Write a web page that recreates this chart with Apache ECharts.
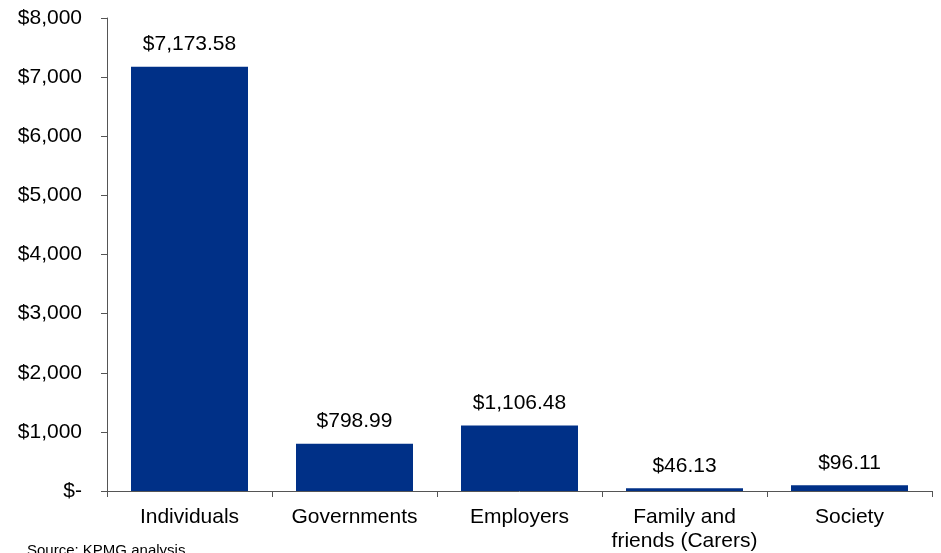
<!DOCTYPE html>
<html>
<head>
<meta charset="utf-8">
<script src="https://cdn.jsdelivr.net/npm/echarts@6/dist/echarts.min.js"></script>
<style>
  html, body { margin: 0; padding: 0; background: #fff; }
  #chart { width: 941px; height: 553px; }
</style>
</head>
<body>
<div id="chart"></div>
<script>
// Cost borne by each group (AUD)
const categories = ['Individuals', 'Governments', 'Employers', 'Family and\nfriends (Carers)', 'Society'];
const costs = [7173.58, 798.99, 1106.48, 46.13, 96.11];
const yTicks = [0, 1000, 2000, 3000, 4000, 5000, 6000, 7000, 8000];

const fmtMoney = v => '$' + v.toLocaleString('en-US', { minimumFractionDigits: 2, maximumFractionDigits: 2 });
const fmtTick = v => v === 0 ? '$-' : '$' + v.toLocaleString('en-US');

const chart = echarts.init(document.getElementById('chart'));
chart.setOption({
  animation: false,
  textStyle: { fontFamily: 'Liberation Sans, Arial, sans-serif' },
  grid: { left: 107, right: 9, top: 18, bottom: 62 },
  xAxis: {
    type: 'category',
    data: categories,
    axisLine: { lineStyle: { color: '#555', width: 1 } },
    axisTick: { show: true, length: 6, lineStyle: { color: '#555' } },
    axisLabel: { color: '#000', fontSize: 21, margin: 14, lineHeight: 24, interval: 0 }
  },
  yAxis: {
    type: 'value',
    min: yTicks[0],
    max: yTicks[yTicks.length - 1],
    interval: 1000,
    splitLine: { show: false },
    axisLine: { show: true, lineStyle: { color: '#555', width: 1 } },
    axisTick: { show: true, length: 6, lineStyle: { color: '#555' } },
    axisLabel: { color: '#000', fontSize: 21, margin: 25, formatter: fmtTick }
  },
  series: [{
    type: 'bar',
    data: costs,
    barWidth: 117,
    itemStyle: { color: '#003087' },
    label: {
      show: true,
      position: 'top',
      distance: 12,
      color: '#000',
      fontSize: 21,
      formatter: p => fmtMoney(p.value)
    }
  }],
  graphic: [{
    type: 'text',
    left: 27,
    top: 543,
    style: { text: 'Source: KPMG analysis', fill: '#000', fontSize: 15, fontFamily: 'Liberation Sans, Arial, sans-serif' }
  }]
});
</script>
</body>
</html>
